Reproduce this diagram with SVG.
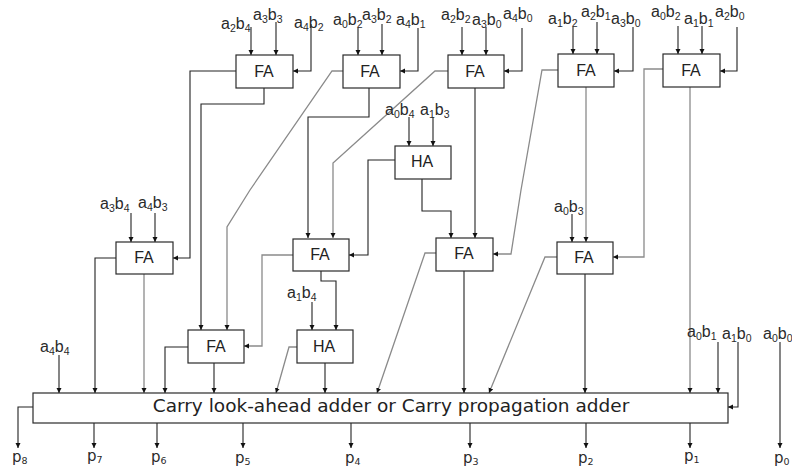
<svg xmlns="http://www.w3.org/2000/svg" width="792" height="468" viewBox="0 0 792 468">
<style>
rect{fill:#fff;stroke:#2a2a2a;stroke-width:1.2}
.c path{fill:none;stroke:#222;stroke-width:1.1;marker-end:url(#a)}
.c path.g{stroke:#8a8a8a;stroke-width:1.3}
.box{font:16px "Liberation Sans",Arial,sans-serif;fill:#222;text-anchor:middle}
.l{font:16px "Liberation Sans",Arial,sans-serif;fill:#2a2a2a}
.p{font:15px "DejaVu Sans",sans-serif;fill:#2a2a2a}
.s{font-size:10.5px}
.p .s{font-size:9.5px}
.t{font:18.5px "DejaVu Sans",sans-serif;fill:#222;text-anchor:middle}
</style>
<defs><marker id="a" markerUnits="userSpaceOnUse" markerWidth="6" markerHeight="6" refX="5" refY="2.5" orient="auto"><path d="M0 0L5 2.5L0 5Z" fill="#111"/></marker></defs>
<g id="connectors" class="c">
<path d="M251 27V55"/><path d="M276 22V55"/><path d="M311 24V71H293"/>
<path d="M358 28V55"/><path d="M382 24V55"/><path d="M418 28V71H400"/>
<path d="M462 27V55"/><path d="M486 27V55"/><path d="M522 28V71H504"/>
<path d="M573 27V54"/><path d="M597 22V54"/><path d="M633 27V71H614"/>
<path d="M678 26V54"/><path d="M702 26V54"/><path d="M737 27V71H720"/>
<path d="M409 117V146"/><path d="M433 117V146"/>
<path d="M131 213V242"/><path d="M155 213V242"/>
<path d="M312 302V330"/><path d="M572 214V242"/>
<path d="M236 71H190V258H173"/>
<path d="M264 88V104H201V330"/>
<path class="g" d="M343 71H332L250 190L227 227V330"/>
<path d="M369 88V117H308V238"/>
<path class="g" d="M448 71H435L333 163V238"/>
<path d="M475 88V238"/>
<path d="M422 179V211H451V238"/>
<path d="M395 160H368V255H349"/>
<path class="g" d="M558 70H542L521 190L511 254H493"/>
<path class="g" d="M586 87V242"/>
<path class="g" d="M663 69H644V257H613"/>
<path class="g" d="M690 87V393"/>
<path d="M116 258H95V393"/>
<path class="g" d="M144 274V393"/>
<path d="M59 355V393"/>
<path d="M188 347H165V393"/>
<path d="M214 363V393"/>
<path class="g" d="M293 255H262V346H244"/>
<path d="M321 271V281H336V330"/>
<path class="g" d="M297 347H289L276 393"/>
<path d="M325 363V393"/>
<path class="g" d="M436 253H425L377 393"/>
<path d="M464 271V393"/>
<path class="g" d="M557 257H545L489 393"/>
<path d="M585 274V393"/>
<path d="M718 342V393"/>
<path d="M738 342V407H728"/>
<path d="M780 342V448"/>
<path d="M33 407H18V448"/>
<path d="M94 423V448"/><path d="M157 423V448"/><path d="M243 423V448"/><path d="M351 423V448"/><path d="M470 423V448"/><path d="M586 423V448"/><path d="M690 423V448"/>
</g>
<g id="fa1"><rect x="236" y="55" width="57" height="33"/><text class="box" x="264" y="77">FA</text></g>
<g id="fa2"><rect x="343" y="55" width="57" height="33"/><text class="box" x="370" y="77">FA</text></g>
<g id="fa3"><rect x="448" y="55" width="56" height="33"/><text class="box" x="475" y="77">FA</text></g>
<g id="fa4"><rect x="558" y="54" width="56" height="33"/><text class="box" x="586" y="76">FA</text></g>
<g id="fa5"><rect x="663" y="54" width="57" height="33"/><text class="box" x="691" y="76">FA</text></g>
<g id="ha1"><rect x="395" y="146" width="56" height="33"/><text class="box" x="422" y="167">HA</text></g>
<g id="fa6"><rect x="116" y="242" width="57" height="32"/><text class="box" x="144" y="263">FA</text></g>
<g id="fa7"><rect x="293" y="239" width="56" height="32"/><text class="box" x="320" y="260">FA</text></g>
<g id="fa8"><rect x="436" y="238" width="57" height="33"/><text class="box" x="464" y="259">FA</text></g>
<g id="fa9"><rect x="557" y="242" width="56" height="32"/><text class="box" x="584" y="263">FA</text></g>
<g id="fa10"><rect x="188" y="330" width="56" height="33"/><text class="box" x="216" y="352">FA</text></g>
<g id="ha2"><rect x="297" y="330" width="56" height="33"/><text class="box" x="324" y="352">HA</text></g>
<g id="adder"><rect x="33" y="393" width="695" height="30"/><text class="t" x="391" y="412">Carry look-ahead adder or Carry propagation adder</text></g>
<g id="labels">
<text class="l" x="221" y="29">a<tspan class="s" dy="3">2</tspan><tspan dy="-3">b</tspan><tspan class="s" dy="3">4</tspan></text>
<text class="l" x="253" y="20">a<tspan class="s" dy="3">3</tspan><tspan dy="-3">b</tspan><tspan class="s" dy="3">3</tspan></text>
<text class="l" x="294" y="28">a<tspan class="s" dy="3">4</tspan><tspan dy="-3">b</tspan><tspan class="s" dy="3">2</tspan></text>
<text class="l" x="333" y="25">a<tspan class="s" dy="3">0</tspan><tspan dy="-3">b</tspan><tspan class="s" dy="3">2</tspan></text>
<text class="l" x="362" y="20">a<tspan class="s" dy="3">3</tspan><tspan dy="-3">b</tspan><tspan class="s" dy="3">2</tspan></text>
<text class="l" x="396" y="25">a<tspan class="s" dy="3">4</tspan><tspan dy="-3">b</tspan><tspan class="s" dy="3">1</tspan></text>
<text class="l" x="441" y="20">a<tspan class="s" dy="3">2</tspan><tspan dy="-3">b</tspan><tspan class="s" dy="3">2</tspan></text>
<text class="l" x="472" y="25">a<tspan class="s" dy="3">3</tspan><tspan dy="-3">b</tspan><tspan class="s" dy="3">0</tspan></text>
<text class="l" x="503" y="19">a<tspan class="s" dy="3">4</tspan><tspan dy="-3">b</tspan><tspan class="s" dy="3">0</tspan></text>
<text class="l" x="548" y="24">a<tspan class="s" dy="3">1</tspan><tspan dy="-3">b</tspan><tspan class="s" dy="3">2</tspan></text>
<text class="l" x="581" y="17">a<tspan class="s" dy="3">2</tspan><tspan dy="-3">b</tspan><tspan class="s" dy="3">1</tspan></text>
<text class="l" x="611" y="24">a<tspan class="s" dy="3">3</tspan><tspan dy="-3">b</tspan><tspan class="s" dy="3">0</tspan></text>
<text class="l" x="651" y="17">a<tspan class="s" dy="3">0</tspan><tspan dy="-3">b</tspan><tspan class="s" dy="3">2</tspan></text>
<text class="l" x="684" y="24">a<tspan class="s" dy="3">1</tspan><tspan dy="-3">b</tspan><tspan class="s" dy="3">1</tspan></text>
<text class="l" x="715" y="17">a<tspan class="s" dy="3">2</tspan><tspan dy="-3">b</tspan><tspan class="s" dy="3">0</tspan></text>
<text class="l" x="385" y="115">a<tspan class="s" dy="3">0</tspan><tspan dy="-3">b</tspan><tspan class="s" dy="3">4</tspan></text>
<text class="l" x="420" y="115">a<tspan class="s" dy="3">1</tspan><tspan dy="-3">b</tspan><tspan class="s" dy="3">3</tspan></text>
<text class="l" x="100" y="209">a<tspan class="s" dy="3">3</tspan><tspan dy="-3">b</tspan><tspan class="s" dy="3">4</tspan></text>
<text class="l" x="138" y="208">a<tspan class="s" dy="3">4</tspan><tspan dy="-3">b</tspan><tspan class="s" dy="3">3</tspan></text>
<text class="l" x="287" y="298">a<tspan class="s" dy="3">1</tspan><tspan dy="-3">b</tspan><tspan class="s" dy="3">4</tspan></text>
<text class="l" x="40" y="352">a<tspan class="s" dy="3">4</tspan><tspan dy="-3">b</tspan><tspan class="s" dy="3">4</tspan></text>
<text class="l" x="554" y="212">a<tspan class="s" dy="3">0</tspan><tspan dy="-3">b</tspan><tspan class="s" dy="3">3</tspan></text>
<text class="l" x="687" y="337">a<tspan class="s" dy="3">0</tspan><tspan dy="-3">b</tspan><tspan class="s" dy="3">1</tspan></text>
<text class="l" x="722" y="339">a<tspan class="s" dy="3">1</tspan><tspan dy="-3">b</tspan><tspan class="s" dy="3">0</tspan></text>
<text class="l" x="763" y="339">a<tspan class="s" dy="3">0</tspan><tspan dy="-3">b</tspan><tspan class="s" dy="3">0</tspan></text>
<text class="p" x="12" y="462">p<tspan class="s" dy="2">8</tspan></text>
<text class="p" x="87" y="461">p<tspan class="s" dy="2">7</tspan></text>
<text class="p" x="151" y="462">p<tspan class="s" dy="2">6</tspan></text>
<text class="p" x="235" y="463">p<tspan class="s" dy="2">5</tspan></text>
<text class="p" x="345" y="463">p<tspan class="s" dy="2">4</tspan></text>
<text class="p" x="463" y="463">p<tspan class="s" dy="2">3</tspan></text>
<text class="p" x="578" y="463">p<tspan class="s" dy="2">2</tspan></text>
<text class="p" x="684" y="461">p<tspan class="s" dy="2">1</tspan></text>
<text class="p" x="774" y="463">p<tspan class="s" dy="2">0</tspan></text>
</g>
</svg>
